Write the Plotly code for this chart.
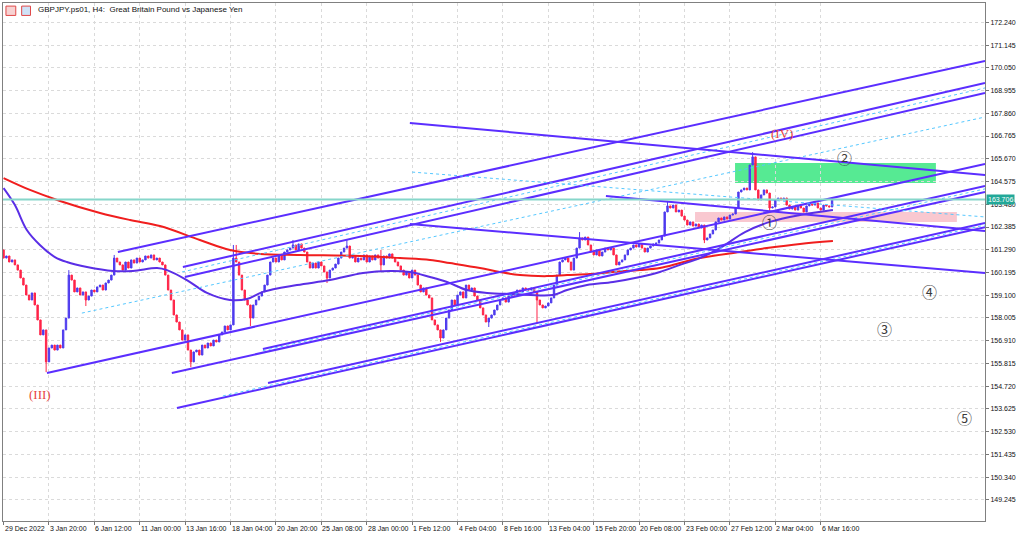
import plotly.graph_objects as go

# ---------------- data ----------------
first_open = 161.28
closes = [
    160.89, 160.99, 160.70, 160.80, 160.56, 160.31, 159.93, 159.59, 159.11, 158.87,
    159.21, 158.63, 157.91, 157.19, 157.43, 155.89, 156.56, 156.70, 156.46, 156.70,
    156.56, 157.43, 158.00, 160.07, 159.83, 159.26, 159.45, 159.11, 159.26, 158.87,
    159.06, 159.35, 159.26, 159.50, 159.59, 159.35, 159.69, 159.83, 160.07, 160.89,
    160.70, 160.56, 160.31, 160.70, 160.41, 160.80, 160.65, 160.89, 160.70, 160.80,
    160.99, 160.89, 161.04, 160.80, 160.89, 160.70, 160.56, 160.07, 159.35, 158.87,
    158.15, 157.81, 157.43, 156.94, 157.19, 156.46, 155.89, 156.37, 156.46, 156.22,
    156.70, 156.56, 156.80, 156.66, 156.94, 156.85, 157.19, 157.33, 157.62, 157.43,
    157.67, 160.89, 160.70, 160.07, 159.35, 158.87, 158.63, 158.00, 158.63, 158.87,
    159.06, 159.26, 159.59, 160.07, 160.70, 160.89, 160.70, 161.04, 160.80, 161.18,
    161.28, 161.37, 161.52, 161.28, 161.57, 161.37, 161.18, 160.70, 160.41, 160.65,
    160.41, 160.70, 160.51, 160.22, 159.93, 160.31, 160.41, 160.60, 160.89, 161.18,
    161.37, 161.47, 160.89, 160.99, 160.70, 160.89, 160.80, 161.04, 160.70, 160.99,
    160.80, 161.04, 160.89, 160.56, 160.99, 160.89, 161.09, 160.89, 160.70, 160.51,
    160.31, 160.07, 160.22, 159.93, 160.31, 160.07, 159.59, 159.26, 159.45, 159.11,
    158.97, 157.91, 157.67, 157.43, 157.04, 157.43, 158.00, 158.39, 158.87, 158.63,
    159.11, 159.26, 158.97, 159.59, 159.35, 159.45, 159.06, 158.87, 158.49, 158.15,
    157.81, 158.00, 158.15, 158.39, 158.63, 158.87, 158.97, 158.77, 159.06, 159.21,
    159.11, 159.35, 159.26, 159.45, 159.35, 159.35, 159.45, 159.26, 158.87, 158.63,
    158.49, 158.58, 158.73, 158.97, 159.59, 160.07, 160.70, 160.80, 160.89, 160.70,
    160.31, 160.89, 161.37, 161.86, 161.76, 161.90, 161.52, 161.18, 161.04, 161.28,
    160.99, 161.18, 161.37, 161.28, 161.37, 161.04, 160.56, 160.70, 160.80, 161.04,
    161.28, 161.37, 161.52, 161.42, 161.57, 161.37, 161.18, 161.37, 161.47, 161.57,
    161.61, 161.76, 161.95, 163.11, 163.40, 163.30, 163.44, 163.11, 163.20, 162.91,
    162.72, 162.48, 162.63, 162.43, 162.53, 162.34, 162.48, 161.76, 161.86, 162.05,
    162.24, 162.63, 162.82, 162.72, 162.87, 162.77, 162.96, 163.01, 163.30, 164.07,
    164.17, 164.26, 164.17, 165.37, 165.76, 164.17, 163.69, 163.93, 164.17, 164.02,
    163.30, 163.35, 163.69, 163.78, 163.69, 163.78, 163.44, 163.25, 163.35, 163.20,
    163.40, 163.30, 163.11, 163.40, 163.49, 163.44, 163.54, 163.30, 163.20, 163.44,
    163.40, 163.35, 163.706,
]
wick_high_bars = [23, 39, 81, 82, 102, 121, 133, 203, 234, 264]
wick_high_vals = [160.31, 161.04, 161.52, 161.52, 161.76, 161.76, 161.28, 162.14, 163.64, 165.99]
wick_low_bars = [15, 29, 66, 87, 114, 133, 154, 171, 188, 247, 270]
wick_low_vals = [155.40, 158.58, 155.64, 157.62, 159.69, 160.22, 156.85, 157.57, 157.77, 161.61, 163.11]

current_price = 163.706

# moving averages (bar index, price)
ma_red_bars = [0, 9.3, 19.9, 34, 44.6, 55.1, 69.2, 79.8, 90.4, 104.5, 125.6, 139.7, 150.3, 157.3,
               167.9, 174.9, 182, 191.5, 198.6, 206.6, 214.8, 224.3, 231.3, 238.4, 245.4, 259.5,
               269.0, 280.7, 292.3]
ma_red_vals = [164.74, 164.17, 163.64, 163.06, 162.72, 162.43, 161.76, 161.28, 161.09, 161.04,
               160.99, 160.89, 160.80, 160.65, 160.41, 160.22, 160.07, 160.02, 160.07, 160.12,
               160.22, 160.31, 160.41, 160.65, 160.89, 161.18, 161.37, 161.57, 161.71]
ma_blue_bars = [0, 4.0, 8.2, 12.8, 18.1, 22.3, 29.4, 38.6, 45.6, 54.1, 57.6, 64.6, 71.7, 79.8,
                85.8, 91.4, 103.4, 115, 126.7, 136.2, 143.2, 150.3, 156.3, 163.3, 170.4, 179.5,
                193.6, 198.6, 205.6, 214.8, 224.3, 231.3, 238.4, 245.4, 252.5, 261.3, 270.1,
                280.7, 292.3]
ma_blue_vals = [164.26, 163.44, 162.24, 161.52, 160.94, 160.70, 160.46, 160.27, 160.27, 160.41,
                160.31, 159.83, 159.21, 158.87, 158.92, 159.26, 159.59, 159.83, 160.17, 160.27,
                160.22, 159.98, 159.74, 159.35, 159.21, 159.16, 159.11, 159.35, 159.59, 159.74,
                159.98, 160.22, 160.56, 160.89, 161.37, 162.14, 162.63, 162.96, 163.20]

# trend lines: start bar/price, end bar/price, style
trend_x0 = [40.3, 63.2, 63.9, 62.9, 27.6, 15.3, 59.3, 91.4, 91.4, 61.1, 93.2, 77.3, 143.2, 144.0, 143.2, 212.3]
trend_y0 = [161.18, 160.46, 159.98, 160.22, 158.24, 155.36, 155.36, 156.51, 156.43, 153.67, 154.87, 154.25,
            167.39, 165.03, 162.53, 163.88]
trend_x1 = [345.9] * 16
trend_y1 = [170.38, 169.32, 168.84, 169.08, 167.68, 165.42, 164.07, 164.36, 164.22, 162.38, 162.58, 162.48,
            164.89, 162.87, 160.17, 162.19]
trend_kind = ["solid", "solid", "solid", "dot", "dot", "solid", "solid", "solid", "dot", "solid", "solid", "dot",
              "solid", "dot", "solid", "solid"]

# zones
zone_x0 = [257.8, 243.7]
zone_x1 = [328.6, 336.0]
zone_top = [165.47, 163.11]
zone_bottom = [164.50, 162.63]
zone_color = ["rgba(72,232,138,0.92)", "rgba(248,190,200,0.85)"]

# wave labels
wave_text = ["(III)", "(IV)"]
wave_bar = [12.8, 274.3]
wave_price = [154.30, 166.91]
circle_text = ["①", "②", "③", "④", "⑤"]
circle_bar = [270.1, 296.5, 310.6, 326.5, 338.8]
circle_price = [162.63, 165.71, 157.52, 159.26, 153.19]

# axes
x_tick_bars = list(range(0, 289, 16))
x_tick_text = ["29 Dec 2022", "3 Jan 20:00", "6 Jan 12:00", "11 Jan 00:00", "13 Jan 16:00",
               "18 Jan 04:00", "20 Jan 20:00", "25 Jan 08:00", "28 Jan 00:00", "1 Feb 12:00",
               "4 Feb 04:00", "8 Feb 16:00", "13 Feb 04:00", "15 Feb 20:00", "20 Feb 08:00",
               "23 Feb 00:00", "27 Feb 12:00", "2 Mar 04:00", "6 Mar 16:00"]
y_tick_vals = [149.245, 150.340, 151.435, 152.530, 153.625, 154.720, 155.815, 156.910, 158.005,
               159.100, 160.195, 161.290, 162.385, 163.480, 164.575, 165.670, 166.765, 167.860,
               168.955, 170.050, 171.145, 172.240]
x_range = [-0.2, 345.9]
y_range = [148.23, 173.17]

title_text = "GBPJPY.ps01, H4:  Great Britain Pound vs Japanese Yen"

# ---------------- build ----------------
BULL = "#4E3BEE"
BEAR = "#FF2448"
LINE = "#5B2EFF"
DOT = "#55C8FF"
SMALL = "Liberation Sans Narrow, Liberation Sans, Arial, sans-serif"

bars = list(range(len(closes)))
opens = [first_open] + closes[:-1]
highs = [max(o, c) for o, c in zip(opens, closes)]
lows = [min(o, c) for o, c in zip(opens, closes)]
for b, v in zip(wick_high_bars, wick_high_vals):
    highs[b] = max(highs[b], v)
for b, v in zip(wick_low_bars, wick_low_vals):
    lows[b] = min(lows[b], v)

fig = go.Figure()

for x0, x1, y0, y1, col in zip(zone_x0, zone_x1, zone_top, zone_bottom, zone_color):
    fig.add_shape(type="rect", x0=x0, x1=x1, y0=y0, y1=y1, xref="x", yref="y",
                  fillcolor=col, line=dict(width=0), layer="below")

fig.add_trace(go.Candlestick(
    x=bars, open=opens, high=highs, low=lows, close=closes,
    increasing=dict(line=dict(color=BULL, width=1), fillcolor=BULL),
    decreasing=dict(line=dict(color=BEAR, width=1), fillcolor=BEAR),
    whiskerwidth=0, showlegend=False, hoverinfo="skip"))

fig.add_trace(go.Scatter(x=ma_red_bars, y=ma_red_vals, mode="lines",
                         line=dict(color="#F01E1E", width=2, shape="spline"),
                         showlegend=False, hoverinfo="skip"))
fig.add_trace(go.Scatter(x=ma_blue_bars, y=ma_blue_vals, mode="lines",
                         line=dict(color="#5A2EE6", width=2, shape="spline"),
                         showlegend=False, hoverinfo="skip"))

for x0, y0, x1, y1, k in zip(trend_x0, trend_y0, trend_x1, trend_y1, trend_kind):
    if k == "solid":
        ln = dict(color=LINE, width=2)
    else:
        ln = dict(color=DOT, width=1, dash="dot")
    fig.add_trace(go.Scatter(x=[x0, x1], y=[y0, y1], mode="lines", line=ln,
                             showlegend=False, hoverinfo="skip"))

fig.add_trace(go.Scatter(x=[x_range[0] - 1, x_range[1] + 1], y=[current_price, current_price],
                         mode="lines", line=dict(color="#86D6CA", width=2),
                         showlegend=False, hoverinfo="skip"))

for t, b, p in zip(wave_text, wave_bar, wave_price):
    fig.add_annotation(x=b, y=p, text=t, showarrow=False,
                       font=dict(family="Liberation Serif", size=13, color="#E8433F"))
for t, b, p in zip(circle_text, circle_bar, circle_price):
    fig.add_annotation(x=b, y=p, text=t, showarrow=False,
                       font=dict(family="Noto Sans CJK JP", size=15, color="#3A3A3A"))

for b, t in zip(x_tick_bars, x_tick_text):
    fig.add_annotation(x=b, y=0, xref="x", yref="paper", text=t, showarrow=False,
                       xanchor="left", yanchor="top", xshift=-1, yshift=-2,
                       font=dict(family="Liberation Sans", size=7, color="#111"))

fig.add_annotation(x=1, y=current_price, xref="paper", yref="y", text=f"{current_price:.3f}",
                   showarrow=False, xanchor="left", xshift=1, bgcolor="#22A898",
                   borderpad=1, font=dict(family="Liberation Sans", size=7, color="white"))

fig.add_annotation(x=0.034, y=0.9865, xref="paper", yref="paper", text=title_text,
                   showarrow=False, xanchor="left", yanchor="middle",
                   font=dict(family=SMALL, size=8, color="#111"))
fig.add_shape(type="rect", xref="paper", yref="paper", x0=0.003, x1=0.013, y0=0.976, y1=0.994,
              fillcolor="#F7D2D2", line=dict(color="#E04848", width=1))
fig.add_shape(type="rect", xref="paper", yref="paper", x0=0.019, x1=0.028, y0=0.976, y1=0.994,
              fillcolor="#CFE2F7", line=dict(color="#E04848", width=1))

fig.update_layout(
    width=1024, height=540,
    margin=dict(l=3, r=39, t=3, b=19),
    paper_bgcolor="white", plot_bgcolor="white",
    showlegend=False,
    xaxis=dict(range=x_range, tickvals=x_tick_bars, showticklabels=False,
               ticks="outside", ticklen=3, tickcolor="#777",
               showgrid=True, gridcolor="#DADADA", griddash="dot", gridwidth=1,
               zeroline=False, showline=True, linecolor="#808080", linewidth=1, mirror=True,
               rangeslider=dict(visible=False), fixedrange=True),
    yaxis=dict(range=y_range, side="right", tickvals=y_tick_vals,
               ticktext=[f"{v:.3f}" for v in y_tick_vals],
               ticks="outside", ticklen=3, tickcolor="#777",
               tickfont=dict(family="Liberation Sans", size=7, color="#111"),
               showgrid=True, gridcolor="#DADADA", griddash="dot", gridwidth=1,
               zeroline=False, showline=True, linecolor="#808080", linewidth=1, mirror=True,
               fixedrange=True),
)

fig.write_html("out.html", config={"displayModeBar": False, "staticPlot": True},
               post_script="document.body.style.margin='0px';document.body.style.overflow='hidden';")
